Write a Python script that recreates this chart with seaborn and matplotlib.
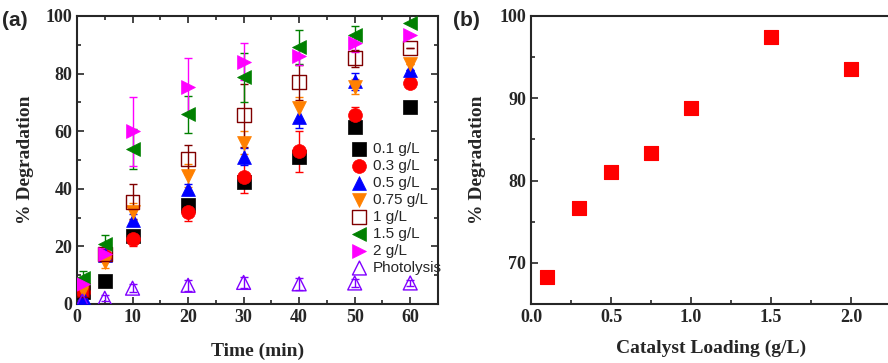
import numpy as np
import pandas as pd
import matplotlib
matplotlib.use("Agg")
import matplotlib.pyplot as plt
import seaborn as sns
from matplotlib.ticker import MultipleLocator

sns.set_theme(style="ticks")
plt.rcParams["font.family"] = ["Liberation Serif", "DejaVu Serif"]

# ---- data ----
times = [1, 5, 10, 20, 30, 40, 50, 60]
labels = ["0.1 g/L", "0.3 g/L", "0.5 g/L", "0.75 g/L", "1 g/L", "1.5 g/L", "2 g/L", "Photolysis"]
deg_01 = [4, 8, 23.5, 34.5, 42.5, 51, 61.5, 68.3]
deg_03 = [4, 16.5, 22.5, 31.8, 44, 53, 65.5, 76.7]
deg_05 = [2.5, 17, 29.3, 39.8, 51.2, 65, 77.3, 81.1]
deg_075 = [5, 14.5, 32, 44.5, 56, 68, 75.5, 83.3]
deg_1 = [5, 17.5, 35.5, 50.3, 65.5, 77, 85.3, 88.8]
deg_15 = [9, 20.8, 53.8, 65.8, 78.8, 89.3, 93.5, 97.4]
deg_2 = [7, 17.5, 60, 75.5, 84.2, 86, 90.5, 93.5]
deg_ph = [1, 2, 5.5, 6.5, 7.5, 7, 7.3, 7.3]
err_01 = [1, 0, 1, 1.5, 2, 2, 1.5, 0]
err_03 = [1.5, 1.5, 2.5, 3, 5.5, 7, 3, 0]
err_05 = [1, 2, 2, 2, 3, 4, 3, 0]
err_075 = [1.5, 2, 3, 4, 4, 4, 2.5, 0]
err_1 = [1.5, 2, 6, 5, 11, 6, 3, 0]
err_15 = [2.5, 3, 7, 6.5, 8.5, 6, 3, 0]
err_2 = [2, 2, 12, 10, 6.5, 3, 3, 0]
err_ph = [1, 1, 1.5, 2, 2, 2, 1.5, 1]

loading = [0.1, 0.3, 0.5, 0.75, 1.0, 1.5, 2.0]
final_deg = [68.3, 76.7, 81.1, 83.3, 88.8, 97.4, 93.5]

series = [deg_01, deg_03, deg_05, deg_075, deg_1, deg_15, deg_2, deg_ph]
errs = [err_01, err_03, err_05, err_075, err_1, err_15, err_2, err_ph]
colors = ["#000000", "#FF0000", "#0000FF", "#FF8000", "#800000", "#008000", "#FF00FF", "#8000FF"]
markers = ["s", "o", "^", "v", "s", "<", ">", "^"]
hollow = [False, False, False, False, True, False, False, True]

fig = plt.figure(figsize=(8.88, 3.63), dpi=100)
ax1 = fig.add_axes([77/888, 1-304/363, 361/888, 288/363])
ax2 = fig.add_axes([531/888, 1-304/363, 360/888, 288/363])

for ys, es, c, m, h, lab in zip(series, errs, colors, markers, hollow, labels):
    ax1.errorbar(times, ys, yerr=es, fmt="none", ecolor=c, elinewidth=1, capsize=3, capthick=1, zorder=2)
    df = pd.DataFrame({"t": times, "y": ys})
    if h:
        sns.scatterplot(data=df, x="t", y="y", marker=m, s=100, facecolors="none",
                        edgecolor=c, linewidth=1.0, ax=ax1, label=lab, zorder=3)
    else:
        sns.scatterplot(data=df, x="t", y="y", marker=m, s=100, color=c,
                        edgecolor=c, linewidth=0.5, ax=ax1, label=lab, zorder=3)

ax1.set_xlim(0, 65)
ax1.set_ylim(0, 100)
ax1.xaxis.set_major_locator(MultipleLocator(10))
ax1.xaxis.set_minor_locator(MultipleLocator(5))
ax1.yaxis.set_major_locator(MultipleLocator(20))
ax1.yaxis.set_minor_locator(MultipleLocator(10))
ax1.tick_params(which="both", direction="in", top=True, right=True, width=1.2)
ax1.tick_params(which="major", length=5)
ax1.tick_params(which="minor", length=3)
ax1.set_xlabel("Time (min)", fontsize=14, fontweight="bold", labelpad=12)
ax1.set_ylabel("% Degradation", fontsize=14, fontweight="bold", labelpad=8)
for lbl in ax1.get_xticklabels() + ax1.get_yticklabels():
    lbl.set_fontsize(13); lbl.set_fontweight("bold")
for sp in ax1.spines.values():
    sp.set_linewidth(1.5)
leg = ax1.legend(loc="upper left", bbox_to_anchor=(0.74, 0.585), frameon=False,
                 prop={"family": "Liberation Sans", "size": 11}, handletextpad=0.3,
                 labelspacing=0.2, borderaxespad=0, handlelength=1.2)

df2 = pd.DataFrame({"load": loading, "deg": final_deg})
sns.scatterplot(data=df2, x="load", y="deg", marker="s", s=100, color="#FF0000",
                edgecolor="#FF0000", ax=ax2, legend=False)
ax2.set_xlim(0, 2.25)
ax2.set_ylim(65, 100)
ax2.xaxis.set_major_locator(MultipleLocator(0.5))
ax2.xaxis.set_minor_locator(MultipleLocator(0.25))
ax2.yaxis.set_major_locator(MultipleLocator(10))
ax2.yaxis.set_minor_locator(MultipleLocator(5))
ax2.tick_params(which="both", direction="in", width=1.2)
ax2.tick_params(which="major", length=5)
ax2.tick_params(which="minor", length=3)
ax2.set_xlabel("Catalyst Loading (g/L)", fontsize=14, fontweight="bold", labelpad=10)
ax2.set_ylabel("% Degradation", fontsize=14, fontweight="bold", labelpad=10)
for lbl in ax2.get_xticklabels() + ax2.get_yticklabels():
    lbl.set_fontsize(13); lbl.set_fontweight("bold")
for sp in ax2.spines.values():
    sp.set_linewidth(1.5)

fig.text(2/888, 1-20/363, "(a)", fontsize=15, fontweight="bold", family=["Liberation Sans"], va="center")
fig.text(453/888, 1-20/363, "(b)", fontsize=15, fontweight="bold", family=["Liberation Sans"], va="center")

fig.savefig("out.png", dpi=100)
